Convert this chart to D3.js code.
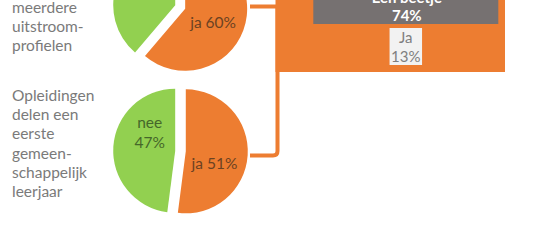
<!DOCTYPE html>
<html>
<head>
<meta charset="utf-8">
<script src="https://cdn.jsdelivr.net/npm/d3@7"></script>
<style>
  html, body { margin: 0; padding: 0; background: #ffffff; }
  svg { display: block; }
</style>
</head>
<body>
<svg id="chart" width="548" height="251"></svg>
<script>
// ---- data ----
const pieCategories = ["ja", "nee"];
const pieTopValues = [60, 38];
const pieBottomValues = [51, 47];
const pieTopLabels = ["ja 60%", null];
const pieBottomLabels = ["ja 51%", "nee\n47%"];
const boxCategories = ["Een beetje", "Ja"];
const boxValues = [74, 13];
const textTop = ["meerdere", "uitstroom-", "profielen"];
const textBottom = ["Opleidingen", "delen een", "eerste", "gemeen-", "schappelijk", "leerjaar"];

// ---- layout / style ----
const W = 548, H = 251;
const ORANGE = "#ED7D31", GREEN = "#92D050", DGRAY = "#767171";
const FONT = "Lato, 'Open Sans', sans-serif";
const sliceColor = d3.scaleOrdinal().domain(pieCategories).range([ORANGE, GREEN]);
const labelColor = d3.scaleOrdinal().domain(pieCategories).range(["#6b4222", "#45672a"]);
const R = 62, EXPLODE = 5.3;
const pies = [
  { values: pieTopValues, labels: pieTopLabels, cx: 180.2, cy: 7, labelAngles: [116.5, null] },
  { values: pieBottomValues, labels: pieBottomLabels, cx: 180.5, cy: 151, labelAngles: [113, 305] }
];

const svg = d3.select("#chart");

// left text blocks
function textBlock(lines, x, y0, step) {
  const t = svg.append("text")
    .attr("font-family", FONT).attr("font-size", 15.5)
    .attr("fill", "#7a7a7a");
  lines.forEach((l, i) => t.append("tspan").attr("x", x).attr("y", y0 + i * step).text(l));
}
textBlock(textTop, 12, 12.5, 19.3);
textBlock(textBottom, 12, 100.8, 19.3);

// pies
const pieGen = d3.pie().sort(null).value(d => d);
const arcGen = d3.arc().innerRadius(0).outerRadius(R);
pies.forEach(p => {
  const arcs = pieGen(p.values);
  const g = svg.append("g").attr("transform", `translate(${p.cx},${p.cy})`);
  arcs.forEach((a, i) => {
    const mid = (a.startAngle + a.endAngle) / 2;
    const ox = Math.sin(mid) * EXPLODE, oy = -Math.cos(mid) * EXPLODE;
    const sg = g.append("g").attr("transform", `translate(${ox},${oy})`);
    sg.append("path").attr("d", arcGen(a)).attr("fill", sliceColor(pieCategories[i]));
    if (p.labels[i]) {
      const ang = p.labelAngles[i] * Math.PI / 180;
      const lr = 31.2;
      const lx = Math.sin(ang) * lr, ly = -Math.cos(ang) * lr;
      const lines = p.labels[i].split("\n");
      const t = sg.append("text")
        .attr("font-family", FONT).attr("font-size", 15.5)
        .attr("fill", labelColor(pieCategories[i]))
        .attr("text-anchor", "middle");
      lines.forEach((l, k) => t.append("tspan")
        .attr("x", lx)
        .attr("y", ly + (k - (lines.length - 1) / 2) * 20)
        .attr("dy", "0.35em").text(l));
    }
  });
});

// bracket connector
svg.append("path")
  .attr("d", "M250,6.5 H277.5 V151 Q277.5,155.5 273,155.5 H250")
  .attr("fill", "none").attr("stroke", ORANGE).attr("stroke-width", 4);

// orange panel
svg.append("rect").attr("x", 275.5).attr("y", -10).attr("width", 229.5).attr("height", 82)
  .attr("fill", ORANGE);

// proportional boxes
const wScale = d3.scaleLinear().domain([0, 100]).range([0, 250]);
const boxCx = 405.8;
// Een beetje (gray)
svg.append("rect")
  .attr("x", boxCx - wScale(boxValues[0]) / 2).attr("y", -20)
  .attr("width", wScale(boxValues[0])).attr("height", 44)
  .attr("fill", DGRAY);
const t1 = svg.append("text").attr("font-family", FONT).attr("font-size", 15)
  .attr("font-weight", 700).attr("fill", "#ffffff").attr("text-anchor", "middle");
t1.append("tspan").attr("x", boxCx + 1).attr("y", 2.5).text(boxCategories[0]);
t1.append("tspan").attr("x", boxCx + 1).attr("y", 20.5).text(boxValues[0] + "%");
// Ja (light)
svg.append("rect")
  .attr("x", boxCx - wScale(boxValues[1]) / 2).attr("y", 28)
  .attr("width", wScale(boxValues[1])).attr("height", 37)
  .attr("fill", "#f2f2f2");
const t2 = svg.append("text").attr("font-family", FONT).attr("font-size", 15)
  .attr("fill", "#7f7f7f").attr("text-anchor", "middle");
t2.append("tspan").attr("x", boxCx).attr("y", 43).text(boxCategories[1]);
t2.append("tspan").attr("x", boxCx).attr("y", 61.5).text(boxValues[1] + "%");
</script>
</body>
</html>
